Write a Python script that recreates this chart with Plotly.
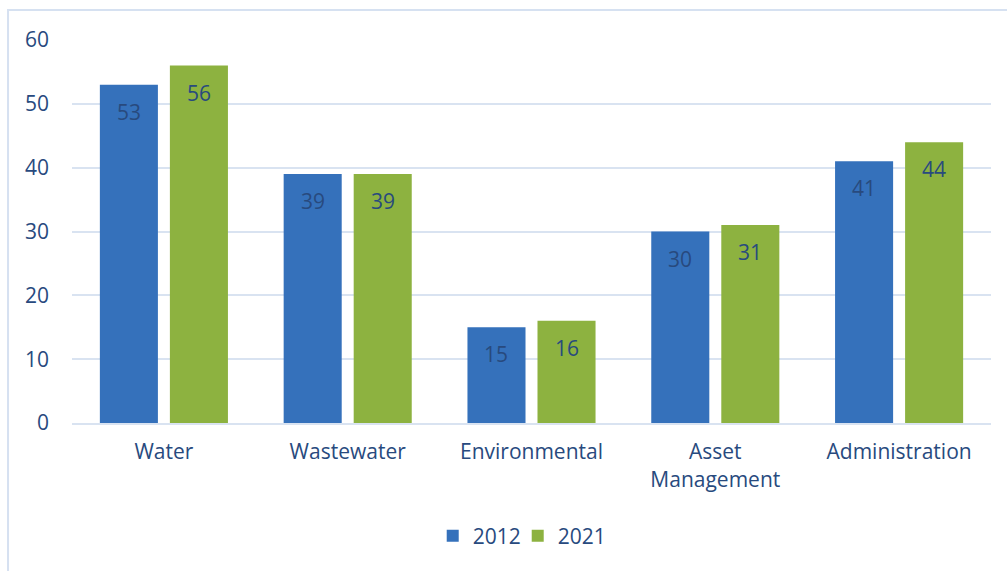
import plotly.graph_objects as go

categories = ["Water", "Wastewater", "Environmental", "Asset<br>Management", "Administration"]
values_2012 = [53, 39, 15, 30, 41]
values_2021 = [56, 39, 16, 31, 44]
y_ticks = [0, 10, 20, 30, 40, 50, 60]

TEXT = "#284A7E"
GRID = "#D9E3F1"
FONT = "Open Sans"
FS = 21

W, H = 1007, 571
ML, MR, MT, MB = 72, 16, 40, 148
BARGAP, GROUPGAP = 0.238, 0.171

fig = go.Figure()
fig.add_trace(go.Bar(name="2012", x=categories, y=values_2012,
                     marker=dict(color="#3571BB", line=dict(width=0))))
fig.add_trace(go.Bar(name="2021", x=categories, y=values_2021,
                     marker=dict(color="#8DB240", line=dict(width=0))))

# value labels placed just inside the top of each bar
slot = (W - ML - MR) / len(categories) * (1 - BARGAP) / 2
for series, side in ((values_2012, -1), (values_2021, 1)):
    for cat, v in zip(categories, series):
        fig.add_annotation(x=cat, y=v, text=str(v), showarrow=False,
                           xshift=side * slot / 2, yshift=-27,
                           font=dict(family=FONT, size=FS, color=TEXT))

# outer chart frame
fig.add_shape(type="rect", xref="paper", yref="paper",
              x0=-0.0696, x1=1.2, y0=-0.6, y1=1.0783,
              line=dict(color="#D6E1F1", width=2), layer="below")

fig.update_layout(
    width=W, height=H,
    margin=dict(l=ML, r=MR, t=MT, b=MB),
    paper_bgcolor="white", plot_bgcolor="white",
    barmode="group", bargap=BARGAP, bargroupgap=GROUPGAP,
    font=dict(family=FONT, size=FS, color=TEXT),
    showlegend=True,
    legend=dict(orientation="h", x=0.485, xanchor="center", y=-0.295, yanchor="middle",
                font=dict(size=FS, color=TEXT), itemwidth=30, entrywidth=40,
                traceorder="normal"),
    xaxis=dict(showgrid=False, zeroline=False, showline=True, linecolor=GRID, linewidth=2,
               ticks="", tickfont=dict(size=FS, color=TEXT), ticklabelstandoff=9),
    yaxis=dict(range=[0, 60], tickvals=y_ticks, showgrid=True, gridcolor=GRID, gridwidth=2,
               zeroline=False, showline=False, ticks="",
               tickfont=dict(size=FS, color=TEXT), ticklabelstandoff=22),
)

fig.write_html("out.html")
